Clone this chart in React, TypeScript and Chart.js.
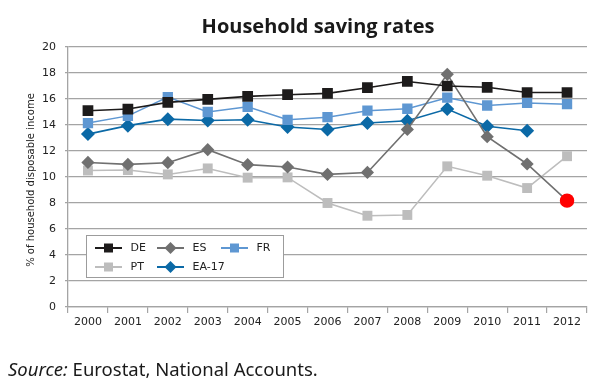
import React, { useEffect, useRef } from 'react';
import { Chart, registerables } from 'chart.js';

Chart.register(...registerables);

const years = ['2000', '2001', '2002', '2003', '2004', '2005', '2006', '2007', '2008', '2009', '2010', '2011', '2012'];
const deValues = [15.1, 15.23, 15.74, 15.97, 16.2, 16.33, 16.43, 16.87, 17.35, 17.0, 16.9, 16.5, 16.5];
const esValues = [11.12, 10.97, 11.1, 12.1, 10.95, 10.77, 10.2, 10.35, 13.66, 17.9, 13.1, 11.0, 8.18];
const frValues = [14.15, 14.7, 16.15, 15.0, 15.4, 14.4, 14.6, 15.1, 15.25, 16.1, 15.5, 15.7, 15.6];
const ptValues = [10.5, 10.53, 10.2, 10.66, 9.95, 9.97, 8.0, 7.02, 7.08, 10.82, 10.1, 9.15, 11.6];
const ea17Values = [13.3, 13.95, 14.45, 14.35, 14.4, 13.85, 13.65, 14.15, 14.33, 15.23, 13.9, 13.56, null];
const yMin = 0;
const yMax = 20;
const yStep = 2;
const highlightedEsYear = '2012';

const titleText = 'Household saving rates';
const yAxisTitle = '% of household disposable income';
const sourceLabel = 'Source:';
const sourceText = ' Eurostat, National Accounts.';

const COLORS = {
  de: '#1d1b1b',
  es: '#707070',
  fr: '#5e97d2',
  pt: '#bdbdbd',
  ea: '#0b69a6',
  red: '#ff0000',
  grid: '#a4a4a4',
  text: '#222222',
};

const legendItems = [
  { label: 'DE', color: COLORS.de, style: 'rect', x: 95, y: 248 },
  { label: 'ES', color: COLORS.es, style: 'rectRot', x: 157, y: 248 },
  { label: 'FR', color: COLORS.fr, style: 'rect', x: 221, y: 248 },
  { label: 'PT', color: COLORS.pt, style: 'rect', x: 95, y: 267 },
  { label: 'EA-17', color: COLORS.ea, style: 'rectRot', x: 157, y: 267 },
];

const legendPlugin = {
  id: 'customLegend',
  afterDatasetsDraw(chart: any) {
    const ctx = chart.ctx as CanvasRenderingContext2D;
    ctx.save();
    ctx.fillStyle = '#ffffff';
    ctx.fillRect(86, 235, 198, 42);
    ctx.strokeStyle = '#9c9c9c';
    ctx.lineWidth = 1;
    ctx.strokeRect(86.5, 235.5, 197, 42);
    ctx.font = '11px "DejaVu Sans"';
    ctx.textBaseline = 'middle';
    ctx.textAlign = 'left';
    for (const it of legendItems) {
      ctx.strokeStyle = it.color;
      ctx.lineWidth = 2;
      ctx.beginPath();
      ctx.moveTo(it.x, it.y);
      ctx.lineTo(it.x + 27, it.y);
      ctx.stroke();
      const cx = it.x + 13.5;
      ctx.fillStyle = it.color;
      ctx.beginPath();
      if (it.style === 'rect') {
        ctx.rect(cx - 4.5, it.y - 4.5, 9, 9);
      } else {
        ctx.moveTo(cx, it.y - 6);
        ctx.lineTo(cx + 6, it.y);
        ctx.lineTo(cx, it.y + 6);
        ctx.lineTo(cx - 6, it.y);
        ctx.closePath();
      }
      ctx.fill();
      ctx.fillStyle = COLORS.text;
      ctx.fillText(it.label, it.x + 35.5, it.y + 0.5);
    }
    ctx.restore();
  },
};

const yTitlePlugin = {
  id: 'yTitle',
  afterDraw(chart: any) {
    const ctx = chart.ctx as CanvasRenderingContext2D;
    ctx.save();
    ctx.translate(31, 180);
    ctx.rotate(-Math.PI / 2);
    ctx.font = '10px "DejaVu Sans"';
    ctx.fillStyle = COLORS.text;
    ctx.textAlign = 'center';
    ctx.textBaseline = 'middle';
    ctx.fillText(yAxisTitle, 0, 0);
    ctx.restore();
  },
};

export default function App() {
  const canvasRef = useRef<HTMLCanvasElement | null>(null);

  useEffect(() => {
    if (!canvasRef.current) return;
    const hi = years.indexOf(highlightedEsYear);
    const esStyles = years.map((_, i) => (i === hi ? 'circle' : 'rectRot'));
    const esRadius = years.map((_, i) => (i === hi ? 7.2 : 6.6));
    const esColors = years.map((_, i) => (i === hi ? COLORS.red : COLORS.es));

    const chart = new Chart(canvasRef.current, {
      type: 'line',
      data: {
        labels: years,
        datasets: [
          {
            label: 'DE',
            data: deValues,
            borderColor: COLORS.de,
            backgroundColor: COLORS.de,
            pointBackgroundColor: COLORS.de,
            pointBorderColor: COLORS.de,
            pointStyle: 'rect',
            pointRadius: 7.6,
            pointBorderWidth: 0,
            borderWidth: 1.6,
            tension: 0,
          },
          {
            label: 'ES',
            data: esValues,
            borderColor: COLORS.es,
            backgroundColor: COLORS.es,
            pointBackgroundColor: esColors,
            pointBorderColor: esColors,
            pointStyle: esStyles as any,
            pointRadius: esRadius,
            pointBorderWidth: 0,
            borderWidth: 1.6,
            tension: 0,
          },
          {
            label: 'FR',
            data: frValues,
            borderColor: COLORS.fr,
            backgroundColor: COLORS.fr,
            pointBackgroundColor: COLORS.fr,
            pointBorderColor: COLORS.fr,
            pointStyle: 'rect',
            pointRadius: 7.3,
            pointBorderWidth: 0,
            borderWidth: 1.5,
            tension: 0,
          },
          {
            label: 'EA-17',
            data: ea17Values,
            borderColor: COLORS.ea,
            backgroundColor: COLORS.ea,
            pointBackgroundColor: COLORS.ea,
            pointBorderColor: COLORS.ea,
            pointStyle: 'rectRot',
            pointRadius: 7,
            pointBorderWidth: 0,
            borderWidth: 1.6,
            tension: 0,
          },
          {
            label: 'PT',
            data: ptValues,
            borderColor: COLORS.pt,
            backgroundColor: COLORS.pt,
            pointBackgroundColor: COLORS.pt,
            pointBorderColor: COLORS.pt,
            pointStyle: 'rect',
            pointRadius: 7,
            pointBorderWidth: 0,
            borderWidth: 1.5,
            tension: 0,
          },
        ],
      },
      options: {
        responsive: false,
        animation: false,
        devicePixelRatio: 1,
        layout: { padding: { top: 47, right: 13, left: 0, bottom: 0 } },
        plugins: {
          legend: { display: false },
          tooltip: { enabled: false },
          title: { display: false },
        },
        scales: {
          x: {
            type: 'category',
            offset: true,
            grid: {
              offset: true,
              drawOnChartArea: false,
              drawTicks: true,
              tickLength: 6,
              color: COLORS.grid,
              lineWidth: 1.2,
            },
            border: { display: true, color: COLORS.grid, width: 1.3 },
            ticks: {
              font: { family: '"DejaVu Sans"', size: 11 },
              color: COLORS.text,
              padding: 3,
              maxRotation: 0,
              autoSkip: false,
            },
            afterFit(scale: any) {
              scale.height = 75;
            },
          },
          y: {
            min: yMin,
            max: yMax,
            ticks: {
              stepSize: yStep,
              font: { family: '"DejaVu Sans"', size: 11 },
              color: COLORS.text,
              padding: 9,
            },
            grid: {
              color: COLORS.grid,
              lineWidth: 1.3,
              drawTicks: true,
              tickLength: 3,
            },
            border: { display: true, color: COLORS.grid, width: 1.3 },
            afterFit(scale: any) {
              scale.width = 68;
            },
          },
        },
      },
      plugins: [legendPlugin, yTitlePlugin],
    });
    return () => chart.destroy();
  }, []);

  return (
    <div style={{ position: 'fixed', left: 0, top: 0, width: 600, height: 382, background: '#fff', overflow: 'hidden' }}>
      <canvas ref={canvasRef} width={600} height={382} style={{ position: 'absolute', left: 0, top: 0, width: 600, height: 382 }} />
      <div
        style={{
          position: 'absolute',
          left: 0,
          top: 15.5,
          width: 636,
          textAlign: 'center',
          fontFamily: '"Open Sans", sans-serif',
          fontWeight: 700,
          fontSize: 20,
          lineHeight: '20px',
          color: '#1a1a1a',
          whiteSpace: 'nowrap',
        }}
      >
        {titleText}
      </div>
      <div
        style={{
          position: 'absolute',
          left: 8,
          top: 360.3,
          fontFamily: '"Noto Sans", sans-serif',
          fontSize: 18.5,
          lineHeight: '18.5px',
          color: '#1a1a1a',
          whiteSpace: 'nowrap',
        }}
      >
        <span style={{ fontStyle: 'italic' }}>{sourceLabel}</span>
        {sourceText}
      </div>
    </div>
  );
}
